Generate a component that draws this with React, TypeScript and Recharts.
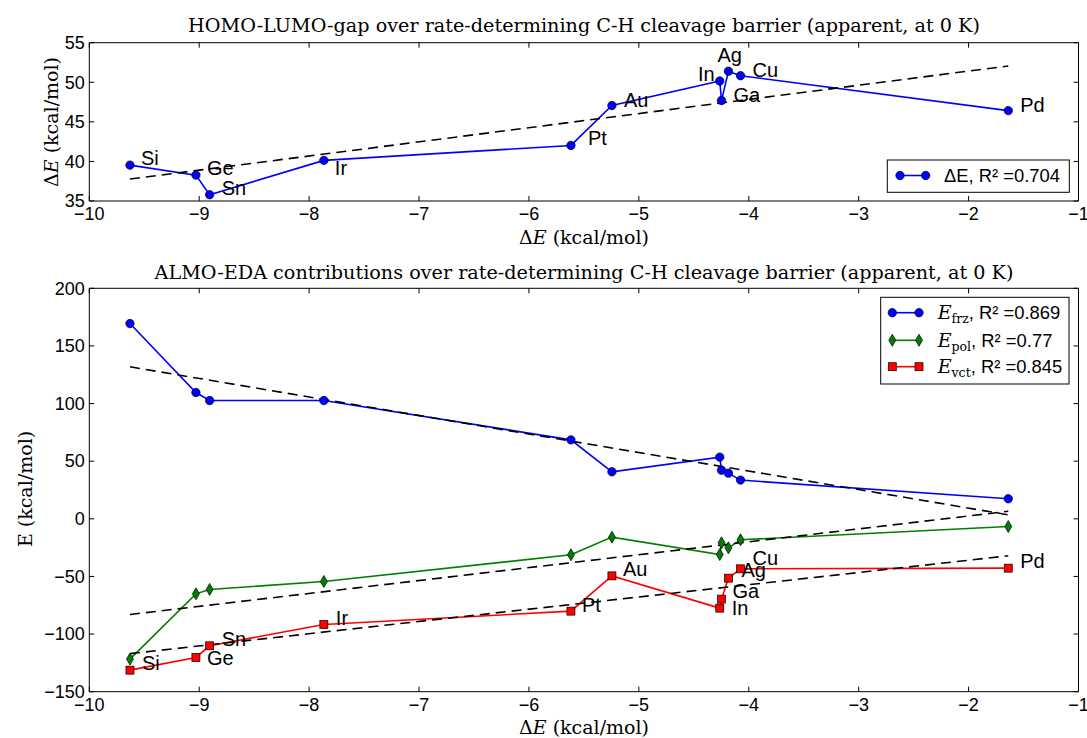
import React from 'react';
import { LineChart, Line, XAxis, YAxis, LabelList } from 'recharts';

// ---------- data ----------
const metals = ['Si', 'Ge', 'Sn', 'Ir', 'Pt', 'Au', 'In', 'Ga', 'Ag', 'Cu', 'Pd'];
const barrier = [-9.63, -9.03, -8.905, -7.866, -5.618, -5.245, -4.264, -4.248, -4.185, -4.075, -1.639];
const gap = [39.53, 38.27, 35.79, 40.13, 42.02, 47.06, 50.16, 47.69, 51.4, 50.83, 46.42];
const eFrz = [169.4, 109.6, 102.6, 102.6, 68.5, 40.8, 53.5, 42.2, 39.6, 33.6, 17.4];
const ePol = [-121.7, -65.1, -61.3, -54.4, -31.2, -15.9, -31.0, -20.8, -25.2, -18.2, -6.7];
const eVct = [-131.3, -120.3, -110.2, -91.7, -80.1, -49.5, -77.5, -69.7, -51.5, -43.4, -42.8];

const fitX = [-9.63, -1.639];
const gapFit = [37.77, 52.06];
const frzFit = [131.9, 3.5];
const polFit = [-83.0, 6.5];
const vctFit = [-117.0, -32.1];

const xTicks = [-10, -9, -8, -7, -6, -5, -4, -3, -2, -1];
const gapTicks = [35, 40, 45, 50, 55];
const edaTicks = [-150, -100, -50, 0, 50, 100, 150, 200];

const gapLegend = 'ΔE, R² =0.704';
const edaLegend = [
  { sub: 'frz', r2: '0.869' },
  { sub: 'pol', r2: '0.77' },
  { sub: 'vct', r2: '0.845' },
];

const titleTop = 'HOMO-LUMO-gap over rate-determining C-H cleavage barrier (apparent, at 0 K)';
const titleBottom = 'ALMO-EDA contributions over rate-determining C-H cleavage barrier (apparent, at 0 K)';

// label placement (layout only)
const topLabelPos: Record<string, [number, number, string]> = {
  Si: [11, 0, 'start'], Ge: [11, 0, 'start'], Sn: [12, 0, 'start'], Ir: [11, 15, 'start'],
  Pt: [17, 0, 'start'], Au: [12, 1, 'start'], In: [-5, 0, 'end'], Ga: [12, 1, 'start'],
  Ag: [-11, -9, 'start'], Cu: [12, 1, 'start'], Pd: [12, 1, 'start'],
};
const bottomLabelPos: Record<string, [number, number, string]> = {
  Si: [12, 0, 'start'], Ge: [11, 8, 'start'], Sn: [12, 0, 'start'], Ir: [12, 0, 'start'],
  Pt: [11, 1, 'start'], Au: [11, 0, 'start'], In: [12, 7, 'start'], Ga: [11, -1, 'start'],
  Ag: [13, -1, 'start'], Cu: [12, -4, 'start'], Pd: [12, 0, 'start'],
};

// ---------- build ----------
const series = (ys: number[]) => barrier.map((x, i) => ({ x, y: ys[i], name: metals[i] }));
const fit = (ys: number[]) => fitX.map((x, i) => ({ x, y: ys[i] }));

const SANS = '"Liberation Sans", Arial, sans-serif';
const SERIF = '"DejaVu Serif", serif';
const TL = 5;

const fmt = (v: number) => (v < 0 ? '\u2212' + Math.abs(v) : String(v));

const BottomTick = (p: any) => (
  <g>
    <line x1={p.x} y1={p.y} x2={p.x} y2={p.y - TL} stroke="#000" strokeWidth={1} />
    <text x={p.x} y={p.y + 19} textAnchor="middle" fontFamily={SANS} fontSize={18} fill="#000">
      {fmt(p.payload.value)}
    </text>
  </g>
);
const TopTick = (p: any) => (
  <line x1={p.x} y1={p.y} x2={p.x} y2={p.y + TL} stroke="#000" strokeWidth={1} />
);
const LeftTick = (p: any) => (
  <g>
    <line x1={p.x} y1={p.y} x2={p.x + TL} y2={p.y} stroke="#000" strokeWidth={1} />
    <text x={p.x - 4.5} y={p.y + 6.3} textAnchor="end" fontFamily={SANS} fontSize={18} fill="#000">
      {fmt(p.payload.value)}
    </text>
  </g>
);
const RightTick = (p: any) => (
  <line x1={p.x} y1={p.y} x2={p.x - TL} y2={p.y} stroke="#000" strokeWidth={1} />
);

const Circle = (p: any) => (
  <circle key={p.key} cx={p.cx} cy={p.cy} r={4.2} fill="#0000ff" stroke="#000" strokeWidth={0.7} />
);
const Diamond = (p: any) => (
  <path
    key={p.key}
    d={`M${p.cx},${p.cy - 6}L${p.cx + 3.5},${p.cy}L${p.cx},${p.cy + 6}L${p.cx - 3.5},${p.cy}Z`}
    fill="#008000"
    stroke="#000"
    strokeWidth={0.7}
  />
);
const Square = (p: any) => (
  <rect key={p.key} x={p.cx - 4} y={p.cy - 4} width={8} height={8} fill="#ff0000" stroke="#000" strokeWidth={0.7} />
);

const makeLabel = (pos: Record<string, [number, number, string]>) => (p: any) => {
  const o = pos[p.value] || [12, 0, 'start'];
  return (
    <text
      x={p.x + o[0]}
      y={p.y + o[1]}
      textAnchor={o[2] as any}
      fontFamily={SANS}
      fontSize={20}
      fill="#000"
    >
      {p.value}
    </text>
  );
};

const axesFor = (ticksY: number[], domainY: [number, number]) => [
  <XAxis
    key="xb"
    xAxisId="b"
    dataKey="x"
    type="number"
    orientation="bottom"
    domain={[-10, -1]}
    ticks={xTicks}
    interval={0}
    allowDataOverflow
    height={30}
    tickSize={0}
    tickMargin={0}
    tickLine={false}
    axisLine={{ stroke: '#000', strokeWidth: 1 }}
    tick={BottomTick}
  />,
  <XAxis
    key="xt"
    xAxisId="t"
    dataKey="x"
    type="number"
    orientation="top"
    domain={[-10, -1]}
    ticks={xTicks}
    interval={0}
    allowDataOverflow
    height={2}
    tickSize={0}
    tickMargin={0}
    tickLine={false}
    axisLine={{ stroke: '#000', strokeWidth: 1 }}
    tick={TopTick}
  />,
  <YAxis
    key="yl"
    yAxisId="l"
    type="number"
    orientation="left"
    domain={domainY}
    ticks={ticksY}
    interval={0}
    allowDataOverflow
    width={60}
    tickSize={0}
    tickMargin={0}
    tickLine={false}
    axisLine={{ stroke: '#000', strokeWidth: 1 }}
    tick={LeftTick}
  />,
  <YAxis
    key="yr"
    yAxisId="r"
    type="number"
    orientation="right"
    domain={domainY}
    ticks={ticksY}
    interval={0}
    allowDataOverflow
    width={2}
    tickSize={0}
    tickMargin={0}
    tickLine={false}
    axisLine={{ stroke: '#000', strokeWidth: 1 }}
    tick={RightTick}
  />,
];

const dashProps = {
  xAxisId: 'b',
  yAxisId: 'l',
  dataKey: 'y',
  stroke: '#000',
  strokeWidth: 1.6,
  strokeDasharray: '10 6',
  dot: false,
  activeDot: false,
  isAnimationActive: false,
  type: 'linear' as const,
};

export default function App() {
  return (
    <div style={{ position: 'absolute', left: 0, top: 0, width: 1087, height: 738, background: '#fff' }}>
      <div style={{ position: 'absolute', left: 0, top: 0 }}>
        <LineChart width={1087} height={250} margin={{ top: 40.7, right: 6.5, left: 29.3, bottom: 19 }}>
          {axesFor(gapTicks, [35, 55])}
          <Line
            data={series(gap)}
            xAxisId="b"
            yAxisId="l"
            dataKey="y"
            type="linear"
            stroke="#0000ff"
            strokeWidth={1.6}
            dot={Circle}
            activeDot={false}
            isAnimationActive={false}
          >
            <LabelList dataKey="name" content={makeLabel(topLabelPos)} />
          </Line>
          <Line data={fit(gapFit)} {...dashProps} />
        </LineChart>
      </div>
      <div style={{ position: 'absolute', left: 0, top: 250 }}>
        <LineChart width={1087} height={488} margin={{ top: 36.3, right: 6.5, left: 29.3, bottom: 16.3 }}>
          {axesFor(edaTicks, [-150, 200])}
          <Line
            data={series(eFrz)}
            xAxisId="b"
            yAxisId="l"
            dataKey="y"
            type="linear"
            stroke="#0000ff"
            strokeWidth={1.6}
            dot={Circle}
            activeDot={false}
            isAnimationActive={false}
          />
          <Line data={fit(frzFit)} {...dashProps} />
          <Line
            data={series(ePol)}
            xAxisId="b"
            yAxisId="l"
            dataKey="y"
            type="linear"
            stroke="#008000"
            strokeWidth={1.6}
            dot={Diamond}
            activeDot={false}
            isAnimationActive={false}
          />
          <Line data={fit(polFit)} {...dashProps} />
          <Line
            data={series(eVct)}
            xAxisId="b"
            yAxisId="l"
            dataKey="y"
            type="linear"
            stroke="#ff0000"
            strokeWidth={1.6}
            dot={Square}
            activeDot={false}
            isAnimationActive={false}
          >
            <LabelList dataKey="name" content={makeLabel(bottomLabelPos)} />
          </Line>
          <Line data={fit(vctFit)} {...dashProps} />
        </LineChart>
      </div>

      {/* titles, axis labels, legends */}
      <svg
        width={1087}
        height={738}
        style={{ position: 'absolute', left: 0, top: 0, pointerEvents: 'none' }}
      >
        <text x={584} y={32} textAnchor="middle" fontFamily={SERIF} fontSize={19.2} fill="#000">
          {titleTop}
        </text>
        <text x={584} y={278.5} textAnchor="middle" fontFamily={SERIF} fontSize={19.2} fill="#000">
          {titleBottom}
        </text>

        <text x={584} y={244} textAnchor="middle" fontFamily={SERIF} fontSize={19} fill="#000">
          Δ<tspan fontStyle="italic">E</tspan> (kcal/mol)
        </text>
        <text x={584} y={734} textAnchor="middle" fontFamily={SERIF} fontSize={19} fill="#000">
          Δ<tspan fontStyle="italic">E</tspan> (kcal/mol)
        </text>

        <text
          transform="translate(58,122) rotate(-90)"
          textAnchor="middle"
          fontFamily={SERIF}
          fontSize={19}
          fill="#000"
        >
          Δ<tspan fontStyle="italic">E</tspan> (kcal/mol)
        </text>
        <text
          transform="translate(32,489) rotate(-90)"
          textAnchor="middle"
          fontFamily={SERIF}
          fontSize={19}
          fill="#000"
        >
          E (kcal/mol)
        </text>

        {/* top legend */}
        <rect x={887.3} y={160} width={182} height={32.3} fill="#fff" stroke="#000" strokeWidth={1} />
        <line x1={900} y1={175.5} x2={925.7} y2={175.5} stroke="#0000ff" strokeWidth={1.6} />
        <Circle cx={900} cy={175.5} />
        <Circle cx={925.7} cy={175.5} />
        <text x={944} y={182} fontFamily={SANS} fontSize={18.4} fill="#000">
          {gapLegend}
        </text>

        {/* bottom legend */}
        <rect x={880.7} y={297.3} width={188.3} height={86.7} fill="#fff" stroke="#000" strokeWidth={1} />
        {edaLegend.map((e, i) => {
          const cy = [312.7, 340.3, 366.7][i];
          const color = ['#0000ff', '#008000', '#ff0000'][i];
          const Shape = [Circle, Diamond, Square][i];
          return (
            <g key={e.sub}>
              <line x1={892.3} y1={cy} x2={919} y2={cy} stroke={color} strokeWidth={1.6} />
              <Shape cx={892.3} cy={cy} />
              <Shape cx={919} cy={cy} />
              <text x={937.7} y={cy + 6.5} fontFamily={SANS} fontSize={18.4} fill="#000">
                <tspan fontFamily={SERIF} fontStyle="italic" fontSize={19}>E</tspan>
                <tspan fontFamily={SERIF} fontSize={12.5} dy={4}>{e.sub}</tspan>
                <tspan dy={-4}>{`, R² =${e.r2}`}</tspan>
              </text>
            </g>
          );
        })}
      </svg>
    </div>
  );
}
